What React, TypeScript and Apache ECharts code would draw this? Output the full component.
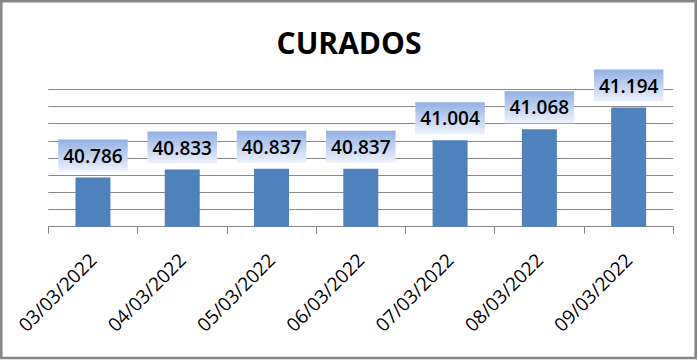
import React, { useEffect, useRef } from "react";
import * as echarts from "echarts";

const categories = ["03/03/2022", "04/03/2022", "05/03/2022", "06/03/2022", "07/03/2022", "08/03/2022", "09/03/2022"];
const curados = [40786, 40833, 40837, 40837, 41004, 41068, 41194];
const titleText = "CURADOS";

const fmt = (v: number) => {
  const s = String(Math.round(v));
  return s.replace(/\B(?=(\d{3})+(?!\d))/g, ".");
};

export default function App() {
  const ref = useRef<HTMLDivElement>(null);
  useEffect(() => {
    if (!ref.current) return;
    const chart = echarts.init(ref.current, undefined, { renderer: "svg" });
    chart.setOption({
      animation: false,
      backgroundColor: "#ffffff",
      title: {
        text: titleText,
        left: "center",
        top: 22,
        textStyle: { fontFamily: "Open Sans", fontWeight: "bold", fontSize: 30, color: "#000" },
      },
      graphic: [
        {
          type: "rect",
          shape: { x: 1.3, y: 1.3, width: 694.4, height: 356.7 },
          style: { fill: "none", stroke: "#878787", lineWidth: 2.6 },
          z: 100,
        },
      ],
      grid: { left: 48.3, right: 24.7, top: 89.3, bottom: 134.3 },
      xAxis: {
        type: "category",
        data: categories,
        axisLine: { lineStyle: { color: "#878787", width: 1 } },
        axisTick: { show: true, length: 7, lineStyle: { color: "#878787" } },
        axisLabel: {
          rotate: 45,
          margin: 30,
          fontFamily: "Open Sans",
          fontSize: 19,
          color: "#000",
          padding: [0, 0, 0, 0],
        },
      },
      yAxis: {
        type: "value",
        min: 40500,
        max: 41300,
        interval: 100,
        axisLine: { show: false },
        axisTick: { show: false },
        axisLabel: { show: false },
        splitLine: { lineStyle: { color: "#8a8a8a", width: 1 } },
      },
      series: [
        {
          type: "bar",
          data: curados,
          barWidth: 35,
          itemStyle: { color: "#4f81bd" },
          label: {
            show: true,
            position: "top",
            distance: 6,
            formatter: (p: any) => fmt(p.value),
            fontFamily: "Open Sans",
            fontWeight: 600,
            fontSize: 19,
            lineHeight: 20,
            color: "#000",
            padding: [6, 5, 6, 5],
            backgroundColor: new echarts.graphic.LinearGradient(0, 0, 0, 1, [
              { offset: 0, color: "#92b0e4" },
              { offset: 1, color: "#eef2fa" },
            ]),
          },
        },
      ],
    });
    return () => chart.dispose();
  }, []);
  return (
    <div
      ref={ref}
      style={{ position: "absolute", left: 0, top: 0, width: 698, height: 361 }}
    />
  );
}
